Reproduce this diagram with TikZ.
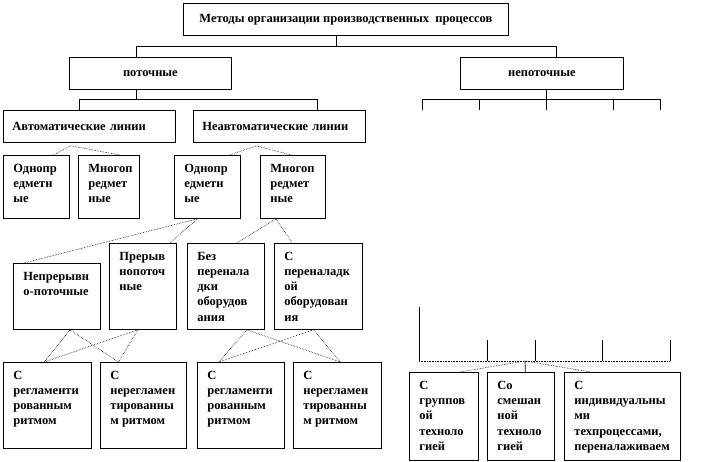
\documentclass[tikz,border=0pt]{standalone}
\usepackage{fontspec}
\setmainfont{Liberation Serif}
\newcommand{\cellbox}[3]{\parbox[c][#2][t]{#1}{\raggedright\leftskip=10pt\hyphenpenalty=10000\rule{0pt}{17pt}#3}}

\begin{document}
\begin{tikzpicture}[x=1pt, y=-1pt,
	cell/.style={draw, line width=.8pt, inner sep=0pt, anchor=north west, font=\fontsize{12.5}{15.2}\selectfont\bfseries},
	wide/.style={cell, text width=154pt, inner xsep=9pt, minimum height=32pt, align=left},
	fan/.style={densely dotted, line width=.6pt},
	link/.style={line width=.7pt}]
	\useasboundingbox (0,0) rectangle (702,462);

	\node[cell, minimum width=325pt, minimum height=32pt] (M) at (183,3) {Методы организации производственных\ \ процессов};
	\node[cell, minimum width=162pt, minimum height=32pt] (P) at (69,57) {поточные};
	\node[cell, minimum width=163pt, minimum height=32pt] (NP) at (460,57) {непоточные};

	\node[wide] (AL) at (3,110) {Автоматические линии};
	\node[wide] (NL) at (193,110) {Неавтоматические линии};

	\node[cell] (A1) at (3,155) {\cellbox{66pt}{63pt}{Однопр\\едметн\\ые}};
	\node[cell] (A2) at (78,155) {\cellbox{61pt}{63pt}{Многоп\\редмет\\ные}};
	\node[cell] (N1) at (174,155) {\cellbox{66pt}{63pt}{Однопр\\едметн\\ые}};
	\node[cell] (N2) at (260,155) {\cellbox{65pt}{63pt}{Многоп\\редмет\\ные}};

	\node[cell] (C1) at (13,263) {\cellbox{87pt}{66pt}{Непрерывн\\о-поточные}};
	\node[cell] (C2) at (109,243) {\cellbox{67pt}{86pt}{Прерыв\\нопоточ\\ные}};
	\node[cell] (C3) at (187,243) {\cellbox{77pt}{86pt}{Без\\перенала\\дки\\оборудов\\ания}};
	\node[cell] (C4) at (274,243) {\cellbox{88pt}{86pt}{С\\переналадк\\ой\\оборудован\\ия}};

	\node[cell] (R1) at (3,362) {\cellbox{88pt}{86pt}{С\\регламенти\\рованным\\ритмом}};
	\node[cell] (R2) at (100,362) {\cellbox{86pt}{86pt}{С\\нерегламен\\тированны\\м ритмом}};
	\node[cell] (R3) at (197,362) {\cellbox{87pt}{86pt}{С\\регламенти\\рованным\\ритмом}};
	\node[cell] (R4) at (293,362) {\cellbox{88pt}{86pt}{С\\нерегламен\\тированны\\м ритмом}};

	\node[cell] (G1) at (409,372) {\cellbox{69pt}{88pt}{С\\группов\\ой\\техноло\\гией}};
	\node[cell] (G2) at (487,372) {\cellbox{67pt}{88pt}{Со\\смешан\\ной\\техноло\\гией}};
	\node[cell] (G3) at (564,372) {\cellbox{116pt}{88pt}{С\\индивидуальны\\ми\\техпроцессами,\\переналаживаем}};

	\coordinate (tj) at ([xshift=-10pt, yshift=-11pt]M.south);
	\coordinate (pj) at ([xshift=-14pt, yshift=-10pt]P.south);
	\coordinate (nj) at ([xshift=4pt, yshift=-10pt]NP.south);
	\coordinate (K1) at (422,110);
	\coordinate (K2) at (479,110);
	\coordinate (K3) at (546,110);
	\coordinate (K4) at (613,110);
	\coordinate (K5) at (660,110);
	\coordinate (L0) at (419,307);
	\coordinate (L1) at (487,340);
	\coordinate (L2) at (535,340);
	\coordinate (L3) at (602,340);
	\coordinate (L4) at (670,340);
	\coordinate (lj) at (525,361);

	\draw[link] ([xshift=-10pt]M.south) -- (tj) -| ([xshift=-14pt]P.north);
	\draw[link] (tj) -| ([xshift=14pt]NP.north);
	\draw[link] ([xshift=-14pt]P.south) -- (pj) -| ([xshift=-10pt]AL.north);
	\draw[link] (pj) -| ([xshift=38pt]NL.north);

	\draw[link] ([xshift=4pt]NP.south) -- (nj);
	\draw[link] (K1) |- (K5 |- nj) -- (K5);
	\foreach \k in {K2,K3,K4}
		\draw[link] (\k) -- (\k |- nj);

	\draw[link] (L0) -- (L0 |- lj);
	\foreach \l in {L1,L2,L3,L4}
		\draw[link] (\l) -- (\l |- lj);
	\draw[fan] (L0 |- lj) -- (L4 |- lj);

	\draw[fan] ([xshift=17pt]A1.north) -- ([xshift=-19pt, yshift=-3pt]AL.south) -- ([xshift=11pt]A2.north);
	\draw[fan] ([xshift=22pt]N1.north) -- ([xshift=-23pt, yshift=-3pt]NL.south) -- ([xshift=-2pt]N2.north);
	\draw[fan] ([xshift=-33pt]C1.north) -- ([xshift=-10pt]N1.south) -- ([xshift=27pt]C2.north);
	\draw[fan] ([xshift=11pt]C3.north) -- ([xshift=-17pt]N2.south) -- ([xshift=-26pt]C4.north);

	\draw[fan] ([xshift=-3pt]R1.north) -- ([xshift=13pt]C1.south) -- ([xshift=-25pt]R2.north);
	\draw[fan] ([xshift=-3pt]R1.north) -- ([xshift=-5pt]C2.south) -- ([xshift=-25pt]R2.north);
	\draw[fan] ([xshift=-22pt]R3.north) -- ([xshift=21pt]C3.south) -- ([xshift=3pt]R4.north);
	\draw[fan] ([xshift=-22pt]R3.north) -- ([xshift=-5pt]C4.south) -- ([xshift=3pt]R4.north);

	\draw[fan] ([xshift=16pt]G1.north) -- (lj) -- ([xshift=-32pt]G3.north);
	\draw[link] (lj) -- ([xshift=4.5pt]G2.north);
\end{tikzpicture}
\end{document}
